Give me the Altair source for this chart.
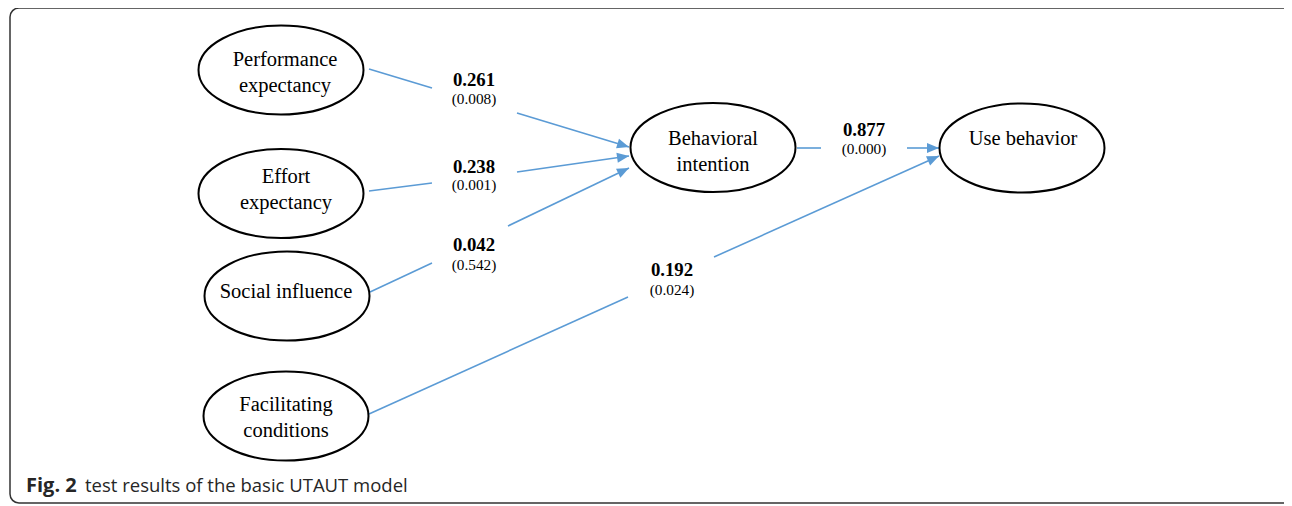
import altair as alt
import numpy as np
import pandas as pd

# ---- nodes (constructs) ----
node_labels = ["Performance\nexpectancy", "Effort\nexpectancy", "Social influence",
               "Facilitating\nconditions", "Behavioral\nintention", "Use behavior"]
node_cx = [281, 281, 287, 286, 713, 1022]
node_cy = [70, 193.5, 296, 416, 147.5, 148]
text_x = [285, 286, 286, 286, 713, 1023]
text_y = [60, 177, 292, 405, 139, 139]   # first text line

# ---- path coefficients and p-values ----
coef_text = ["0.261", "0.238", "0.042", "0.192", "0.877"]
p_text = ["(0.008)", "(0.001)", "(0.542)", "(0.024)", "(0.000)"]
coef_x = [474, 474, 474, 672, 864]
coef_y = [79.5, 166.5, 245, 270, 129.5]
p_y = [98.5, 185, 264.5, 289.5, 149]

# ---- path segments (lines interrupted by the coefficient labels) ----
seg_x1 = [369, 517, 369, 517, 370, 508, 369, 714, 797, 907]
seg_y1 = [69, 113, 191, 172, 292, 226, 414, 257, 148, 148]
seg_x2 = [432, 629, 432, 629, 432, 629, 628, 939, 821, 939]
seg_y2 = [88, 147, 183, 156, 263, 168, 297, 156, 148, 148]
seg_arrow = [False, True, False, True, False, True, False, True, False, True]

# ---- frame and caption ----
frame_x, frame_x2, frame_y, frame_y2 = [10], [1296], [8], [503]
caption_parts = ["Fig. 2", "test results of the basic UTAUT model"]
caption_x = [26, 85]
caption_y = [492, 492]

BLUE = "#5b9bd5"
X = alt.Scale(domain=[8, 1284], nice=False, zero=False)
Y = alt.Scale(domain=[8, 506], nice=False, zero=False, reverse=True)

nodes = pd.DataFrame({"label": node_labels, "cx": node_cx, "cy": node_cy,
                      "tx": text_x, "ty": text_y})
coefs = pd.DataFrame({"coef": coef_text, "p": p_text, "x": coef_x,
                      "cy": coef_y, "py": p_y})
segs = pd.DataFrame({"x1": seg_x1, "y1": seg_y1, "x2": seg_x2, "y2": seg_y2,
                     "arrow": seg_arrow})
arrows = segs[segs["arrow"]].copy()
arrows["ang"] = np.degrees(np.arctan2(arrows["y2"] - arrows["y1"],
                                      arrows["x2"] - arrows["x1"])) % 360
frame = pd.DataFrame({"x": frame_x, "x2": frame_x2, "y": frame_y, "y2": frame_y2})
caption = pd.DataFrame({"t": caption_parts, "x": caption_x, "y": caption_y})

frame_layer = alt.Chart(frame).mark_rect(
    fill="white", stroke="#333333", strokeWidth=1.5, cornerRadius=9
).encode(
    x=alt.X("x:Q", scale=X, axis=None), x2="x2:Q",
    y=alt.Y("y:Q", scale=Y, axis=None), y2="y2:Q",
)

seg_layer = alt.Chart(segs).mark_rule(color=BLUE, strokeWidth=1.6).encode(
    x=alt.X("x1:Q", scale=X, axis=None), x2="x2:Q",
    y=alt.Y("y1:Q", scale=Y, axis=None), y2="y2:Q",
)

arrow_shape = "M0,0 L-1,-0.42 L-1,0.42 Z"
arrow_layer = alt.Chart(arrows).mark_point(
    shape=arrow_shape, filled=True, color=BLUE, opacity=1, size=576, strokeWidth=0
).encode(
    x=alt.X("x2:Q", scale=X, axis=None),
    y=alt.Y("y2:Q", scale=Y, axis=None),
    angle=alt.Angle("ang:Q", scale=None),
)

ellipse_shape = "M-1,0 A1,0.54 0 1,1 1,0 A1,0.54 0 1,1 -1,0 Z"
ellipse_layer = alt.Chart(nodes).mark_point(
    shape=ellipse_shape, filled=False, stroke="black", strokeWidth=2,
    opacity=1, size=27225
).encode(
    x=alt.X("cx:Q", scale=X, axis=None),
    y=alt.Y("cy:Q", scale=Y, axis=None),
)

node_text = alt.Chart(nodes).mark_text(
    font="Liberation Serif", fontSize=20.5, lineBreak="\n", lineHeight=25.5,
    align="center", baseline="middle", color="black"
).encode(
    x=alt.X("tx:Q", scale=X, axis=None),
    y=alt.Y("ty:Q", scale=Y, axis=None),
    text="label:N",
)

coef_layer = alt.Chart(coefs).mark_text(
    font="Liberation Serif", fontSize=18.8, fontWeight="bold",
    align="center", baseline="middle", color="black"
).encode(
    x=alt.X("x:Q", scale=X, axis=None),
    y=alt.Y("cy:Q", scale=Y, axis=None),
    text="coef:N",
)

p_layer = alt.Chart(coefs).mark_text(
    font="Liberation Serif", fontSize=15.3,
    align="center", baseline="middle", color="black"
).encode(
    x=alt.X("x:Q", scale=X, axis=None),
    y=alt.Y("py:Q", scale=Y, axis=None),
    text="p:N",
)

cap_bold = alt.Chart(caption.iloc[[0]]).mark_text(
    font="Open Sans", fontSize=20, fontWeight="bold", align="left",
    baseline="alphabetic", color="#262626"
).encode(
    x=alt.X("x:Q", scale=X, axis=None),
    y=alt.Y("y:Q", scale=Y, axis=None),
    text="t:N",
)
cap_rest = alt.Chart(caption.iloc[[1]]).mark_text(
    font="Open Sans", fontSize=18.5, align="left",
    baseline="alphabetic", color="#262626"
).encode(
    x=alt.X("x:Q", scale=X, axis=None),
    y=alt.Y("y:Q", scale=Y, axis=None),
    text="t:N",
)

chart = alt.layer(
    frame_layer, seg_layer, arrow_layer, ellipse_layer,
    node_text, coef_layer, p_layer, cap_bold, cap_rest
).properties(
    width=1276, height=498, padding=0,
    autosize=alt.AutoSizeParams(type="none"),
    background="white",
).configure_view(stroke=None)

chart.save("out.html", embed_options={"renderer": "svg", "actions": False})
